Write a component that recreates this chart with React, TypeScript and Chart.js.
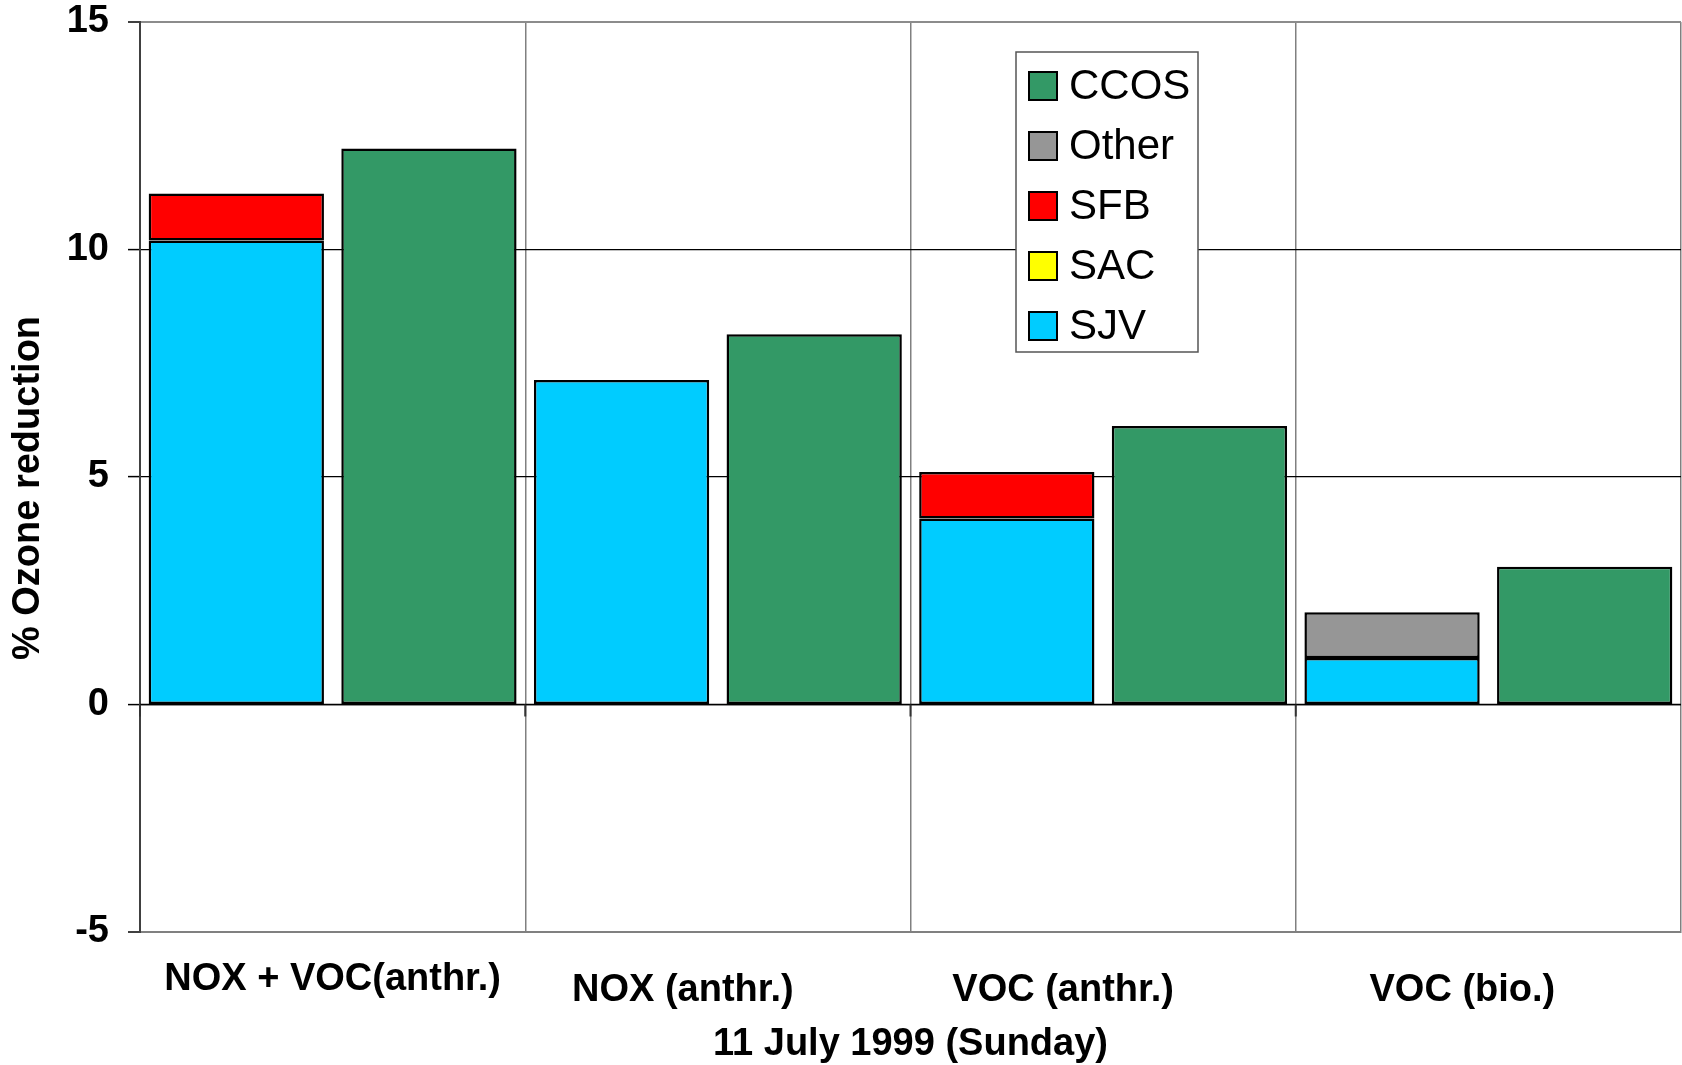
import React, { useEffect, useRef } from 'react';
import { Chart, registerables } from 'chart.js';

Chart.register(...registerables);

// ---- data ----
const categories = ['NOX + VOC(anthr.)', 'NOX (anthr.)', 'VOC (anthr.)', 'VOC (bio.)'];
const sjvValues: (number | null)[] = [10.2, 7.13, 4.09, 1.02];
const sacValues: (number | null)[] = [null, null, null, null];
const sfbValues: (number | null)[] = [1.03, null, 1.02, null];
const otherValues: (number | null)[] = [null, null, null, 1.01];
const ccosValues: (number | null)[] = [12.22, 8.14, 6.12, 3.03];
const yMin = -5;
const yMax = 15;
const yStep = 5;
const xTitle = '11 July 1999 (Sunday)';
const yTitle = '% Ozone reduction';

// ---- styles ----
const FONT = '"Liberation Sans", Arial, Helvetica, sans-serif';
const labelShiftX = [0, -35, -40, -26];
const labelDrop = [48, 59, 59, 59];

const overlayPlugin = {
  id: 'overlay',
  afterDatasetsDraw(chart: any) {
    const { ctx, chartArea, scales } = chart;
    const x = scales.x;
    const y = scales.y;
    const y0 = y.getPixelForValue(0);
    const catW = (chartArea.right - chartArea.left) / categories.length;
    ctx.save();
    // zero line
    ctx.strokeStyle = '#000';
    ctx.lineWidth = 1.5;
    ctx.beginPath();
    ctx.moveTo(chartArea.left, y0);
    ctx.lineTo(chartArea.right, y0);
    ctx.stroke();
    // small category ticks below the zero line
    ctx.strokeStyle = '#333';
    ctx.lineWidth = 2;
    for (let i = 0; i < categories.length; i++) {
      const px = x.getPixelForValue(i) - catW / 2;
      ctx.beginPath();
      ctx.moveTo(px, y0);
      ctx.lineTo(px, y0 + 12);
      ctx.stroke();
    }
    ctx.restore();
  },
  afterDraw(chart: any) {
    const { ctx, chartArea, scales } = chart;
    const x = scales.x;
    ctx.save();
    // x category labels
    ctx.fillStyle = '#000';
    ctx.font = `bold 38px ${FONT}`;
    ctx.textAlign = 'center';
    ctx.textBaseline = 'middle';
    categories.forEach((c, i) => {
      ctx.fillText(c, x.getPixelForValue(i) + labelShiftX[i], chartArea.bottom + labelDrop[i]);
    });
    // y title
    ctx.save();
    ctx.translate(29, (chartArea.top + chartArea.bottom) / 2 + 11);
    ctx.rotate(-Math.PI / 2);
    ctx.fillText(yTitle, 0, 0);
    ctx.restore();

    // legend
    const lx = chartArea.left + 876;
    const ly = chartArea.top + 30;
    const lw = 182;
    const lh = 300;
    ctx.fillStyle = '#fff';
    ctx.fillRect(lx, ly, lw, lh);
    ctx.strokeStyle = '#555';
    ctx.lineWidth = 1.5;
    ctx.strokeRect(lx, ly, lw, lh);
    const items = [...chart.data.datasets].reverse();
    ctx.font = `42px ${FONT}`;
    ctx.textAlign = 'left';
    ctx.textBaseline = 'middle';
    items.forEach((ds: any, i: number) => {
      const cy = ly + 34 + i * 60;
      ctx.fillStyle = ds.backgroundColor;
      ctx.fillRect(lx + 13, cy - 14, 28, 28);
      ctx.strokeStyle = '#000';
      ctx.lineWidth = 2;
      ctx.strokeRect(lx + 13, cy - 14, 28, 28);
      ctx.fillStyle = '#000';
      ctx.fillText(ds.label, lx + 53, cy + 1);
    });
    ctx.restore();
  },
};

export default function App() {
  const canvasRef = useRef<HTMLCanvasElement | null>(null);

  useEffect(() => {
    document.body.style.margin = '0';
    const canvas = canvasRef.current;
    if (!canvas) return;
    const barCommon = {
      borderColor: '#000',
      borderWidth: 2.5,
      borderSkipped: false as const,
      barPercentage: 0.91,
      categoryPercentage: 1.0,
    };
    const chart = new Chart(canvas, {
      type: 'bar',
      data: {
        labels: categories,
        datasets: [
          { label: 'SJV', data: sjvValues, backgroundColor: '#00CCFF', stack: 'model', ...barCommon },
          { label: 'SAC', data: sacValues, backgroundColor: '#FFFF00', stack: 'model', ...barCommon },
          { label: 'SFB', data: sfbValues, backgroundColor: '#FF0000', stack: 'model', ...barCommon },
          { label: 'Other', data: otherValues, backgroundColor: '#969696', stack: 'model', ...barCommon },
          { label: 'CCOS', data: ccosValues, backgroundColor: '#339966', stack: 'obs', ...barCommon },
        ] as any,
      },
      options: {
        responsive: false,
        animation: false,
        devicePixelRatio: 1,
        layout: { padding: { top: 22, right: 1, left: 0, bottom: 0 } },
        plugins: {
          legend: { display: false },
          tooltip: { enabled: false },
          title: { display: false },
        },
        scales: {
          x: {
            type: 'category',
            stacked: true,
            offset: true,
            grid: {
              display: true,
              offset: true,
              color: '#808080',
              lineWidth: 1.5,
              drawTicks: false,
              tickLength: 0,
            },
            border: { display: true, color: '#808080', width: 2 },
            ticks: { display: false },
            title: {
              display: true,
              text: xTitle,
              color: '#000',
              font: { family: FONT, size: 38, weight: 'bold', lineHeight: 1.1 },
              padding: { top: 0, bottom: 0 },
            },
            afterFit: (scale: any) => {
              scale.height = 133;
              scale.paddingLeft = 0;
              scale.paddingRight = 0;
            },
          },
          y: {
            type: 'linear',
            stacked: true,
            min: yMin,
            max: yMax,
            ticks: {
              stepSize: yStep,
              color: '#000',
              padding: 19,
              font: { family: FONT, size: 38, weight: 'bold' },
            },
            grid: {
              color: (ctx: any) =>
                ctx.tick && (ctx.tick.value === yMin || ctx.tick.value === yMax) ? '#8c8c8c' : '#000',
              lineWidth: (ctx: any) =>
                ctx.tick && (ctx.tick.value === yMin || ctx.tick.value === yMax) ? 2 : 1.2,
              tickColor: '#000',
              tickLength: 12,
              tickWidth: 1.5,
            },
            border: { display: true, color: '#404040', width: 2 },
            afterFit: (scale: any) => {
              scale.width = 140;
              scale.paddingTop = 0;
              scale.paddingBottom = 0;
            },
          },
        },
      },
      plugins: [overlayPlugin],
    });
    return () => chart.destroy();
  }, []);

  return (
    <div style={{ width: 1682, height: 1065, background: '#fff' }}>
      <canvas ref={canvasRef} width={1682} height={1065} style={{ display: 'block' }} />
    </div>
  );
}
